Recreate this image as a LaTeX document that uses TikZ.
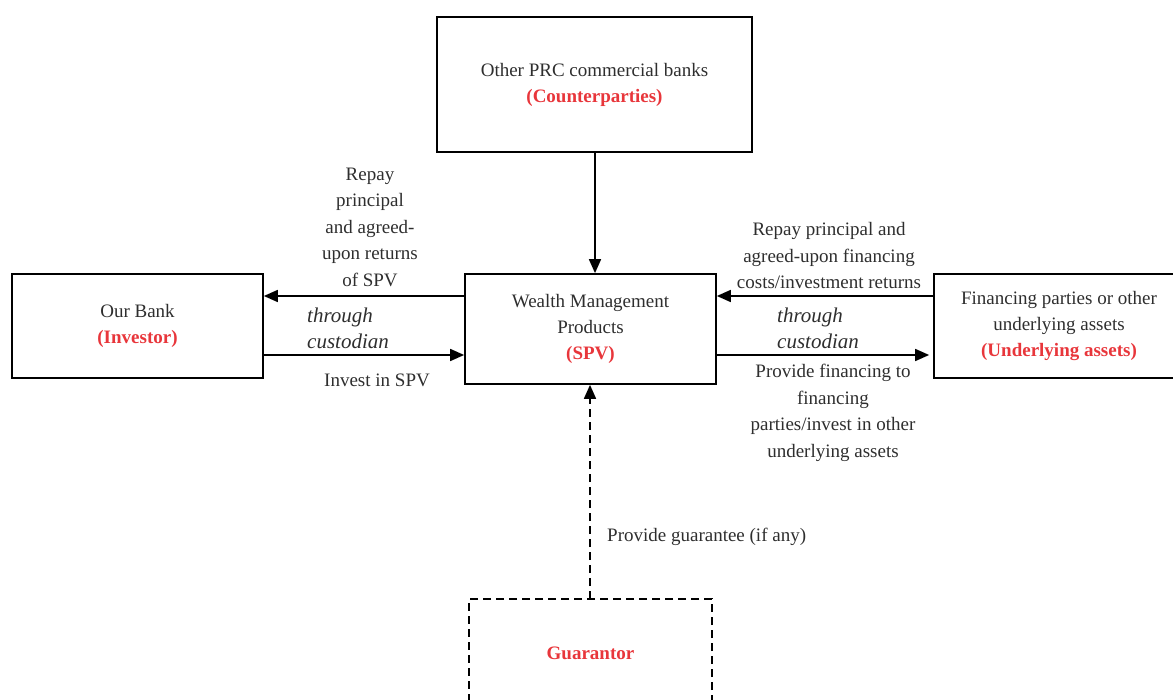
\documentclass[tikz,border=0pt]{standalone}
\usepackage{fontspec}
\setmainfont{Liberation Serif}
\usetikzlibrary{arrows.meta}
\definecolor{txt}{HTML}{2E2E2E}
\definecolor{accent}{HTML}{E8363B}
\begin{document}
\begin{tikzpicture}[x=1pt,y=-1pt,
  box/.style={draw=black, line width=1.7pt, inner sep=0pt, align=center, text=txt,
    font=\fontsize{19}{26}\selectfont},
  lbl/.style={inner sep=0pt, align=center, text=txt, font=\fontsize{19}{26.5}\selectfont},
  itl/.style={inner sep=0pt, align=left, text=txt, anchor=west, font=\fontsize{21}{26}\selectfont\itshape},
  conn/.style={line width=1.7pt, -{Triangle[length=14pt,width=12pt]}},
  dconn/.style={conn, dash pattern=on 8pt off 5pt}]
\useasboundingbox (0,0) rectangle (1173,700);
% boxes
\node[box, minimum width=315, minimum height=135] (cp) at (594.5,84.5)
  {Other PRC commercial banks\\ \textcolor{accent}{\textbf{(Counterparties)}}};
\node[box, minimum width=251, minimum height=104] (bank) at (137.5,326)
  {Our Bank\\ \textcolor{accent}{\textbf{(Investor)}}};
\node[box, minimum width=251, minimum height=110] (spv) at (590.5,329)
  {Wealth Management\\ Products\\ \textcolor{accent}{\textbf{(SPV)}}};
\node[box, minimum width=250, minimum height=104] (ua) at (1059,326)
  {Financing parties or other\\ underlying assets\\ \textcolor{accent}{\textbf{(Underlying assets)}}};
\node[box, dash pattern=on 8pt off 5pt, minimum width=243, minimum height=108] (gu) at (590.5,653)
  {\textcolor{accent}{\textbf{Guarantor}}};
% connectors
\coordinate (ctop) at ([xshift=0.5pt]cp.south);
\draw[conn] (ctop) -- (ctop |- spv.north);
\draw[conn] ([yshift=33pt]spv.west) -- ([yshift=33pt]spv.west -| bank.east);
\draw[conn] ([yshift=-29pt]bank.east) -- ([yshift=-29pt]bank.east -| spv.west);
\draw[conn] ([yshift=30pt]ua.west) -- ([yshift=30pt]ua.west -| spv.east);
\draw[conn] ([yshift=-26pt]spv.east) -- ([yshift=-26pt,xshift=-4pt]spv.east -| ua.west);
\coordinate (gtop) at (590,599);
\draw[dconn] (gtop) -- (gtop |- spv.south);
% labels
\node[lbl] (l1) at (370,227) {Repay\\ principal\\ and agreed-\\ upon returns\\ of SPV};
\node[itl] (l2) at (307,328) {through\\ custodian};
\node[lbl] (l3) at (377,380) {Invest in SPV};
\node[lbl] (r1) at (829,256) {Repay principal and\\ agreed-upon financing\\ costs/investment returns};
\node[itl] (r2) at (777,328) {through\\ custodian};
\node[lbl] (r3) at (833,413) {Provide financing to\\ financing\\ parties/invest in other\\ underlying assets};
\node[lbl, anchor=west] (g1) at (607,537) {Provide guarantee (if any)};
\end{tikzpicture}
\end{document}
